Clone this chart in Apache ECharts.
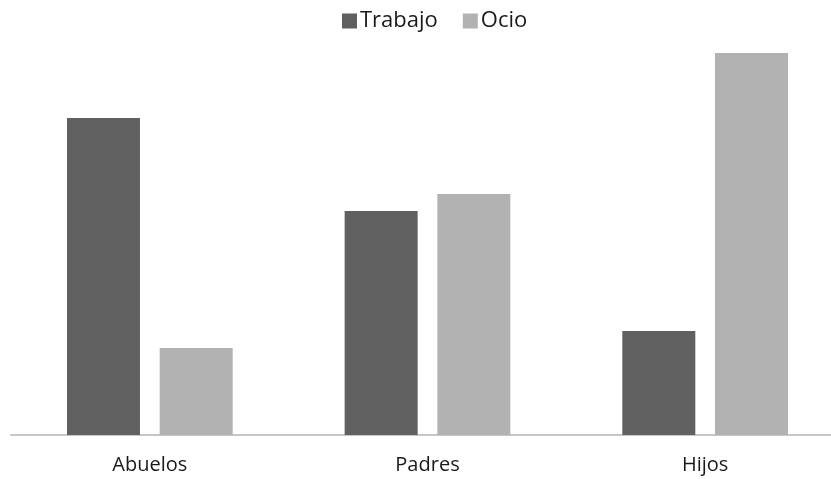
<!DOCTYPE html>
<html>
<head>
<meta charset="utf-8">
<script src="https://cdn.jsdelivr.net/npm/echarts@6/dist/echarts.min.js"></script>
<style>
  html, body { margin: 0; padding: 0; background: #fff; }
  #chart { width: 831px; height: 479px; }
</style>
</head>
<body>
<div id="chart"></div>
<script>
// categorias y valores
const categories = ["Abuelos", "Padres", "Hijos"];
const trabajo = [317, 224, 104];
const ocio = [87, 241, 382];

const chart = echarts.init(document.getElementById("chart"));

chart.setOption({
  animation: false,
  textStyle: { fontFamily: "Open Sans" },
  legend: {
    top: 5,
    left: 337,
    icon: "rect",
    itemWidth: 15,
    itemHeight: 15,
    itemGap: 25,
    textStyle: { fontSize: 22, color: "#1a1a1a", fontFamily: "Open Sans", padding: [0, 0, 0, -2] },
    data: ["Trabajo", "Ocio"]
  },
  // el area del grafico sobrepasa el borde derecho
  grid: { left: 11, top: 35, bottom: 44, width: 833, outerBoundsMode: "none", containLabel: false },
  xAxis: {
    type: "category",
    data: categories,
    axisLine: { lineStyle: { color: "#c6c6c6", width: 2 } },
    axisTick: { show: false },
    axisLabel: { fontSize: 20, color: "#1a1a1a", margin: 20, fontFamily: "Open Sans" }
  },
  yAxis: {
    type: "value",
    min: 0,
    max: 400,
    show: false,
    splitLine: { show: false }
  },
  series: [
    {
      name: "Trabajo",
      type: "bar",
      data: trabajo,
      barWidth: 73,
      barGap: "27%",
      itemStyle: { color: "#606060" }
    },
    {
      name: "Ocio",
      type: "bar",
      data: ocio,
      barWidth: 73,
      itemStyle: { color: "#b2b2b2" }
    }
  ]
});
</script>
</body>
</html>
